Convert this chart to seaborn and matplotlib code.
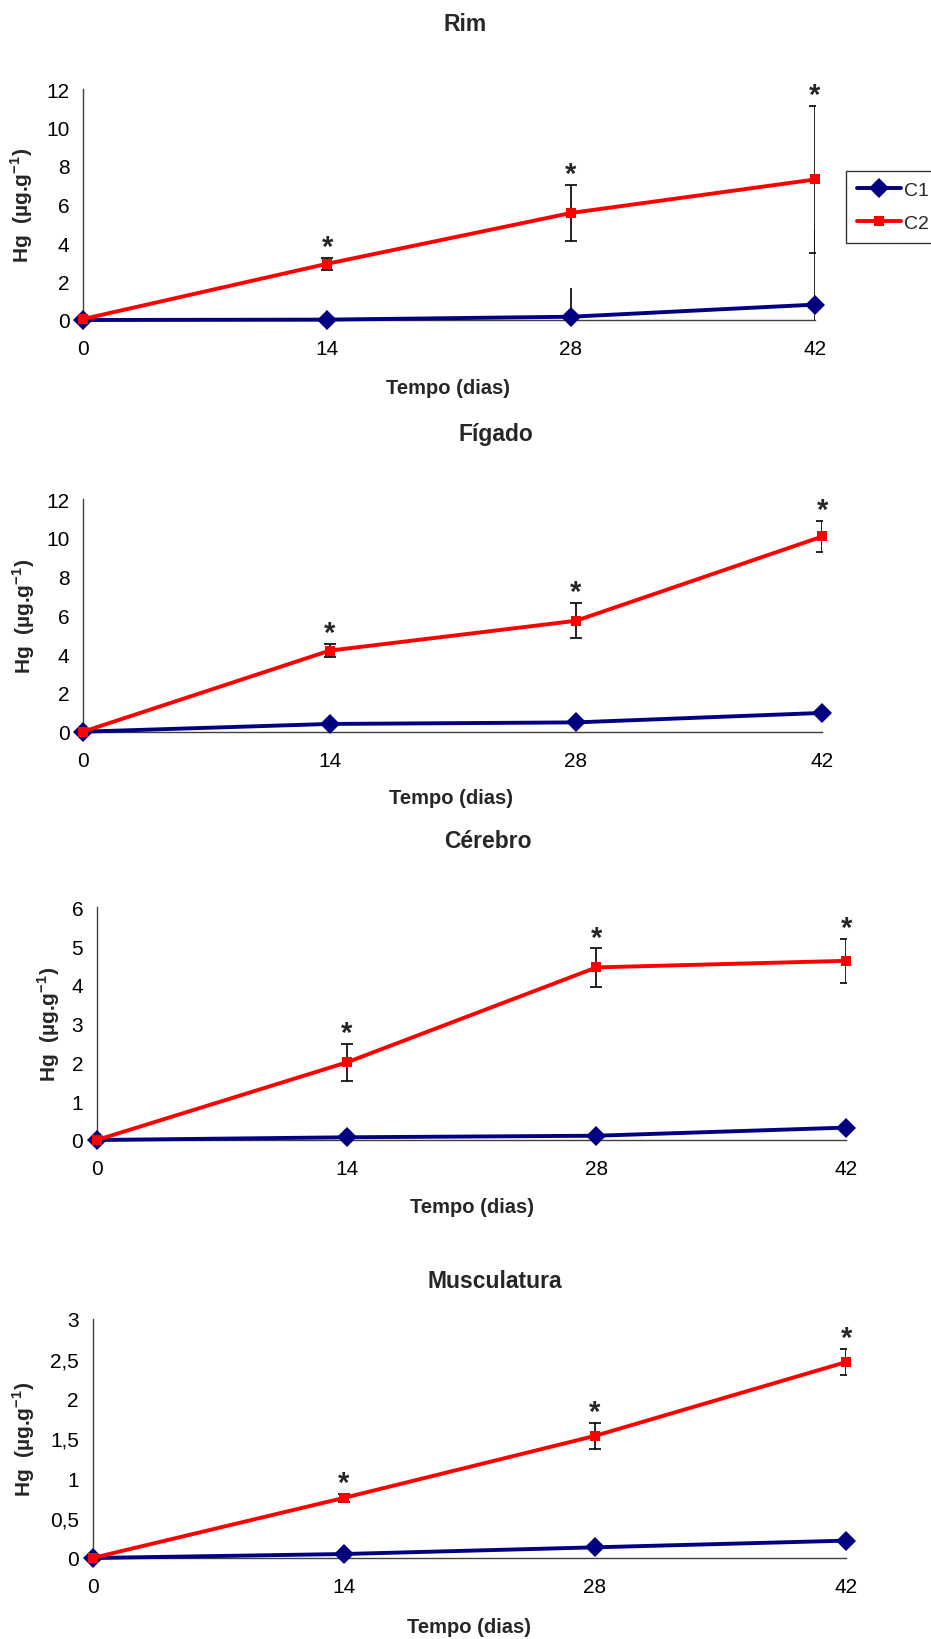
import numpy as np
import pandas as pd
import seaborn as sns
import matplotlib
matplotlib.use("Agg")
import matplotlib.pyplot as plt

# ---------------- data ----------------
days = [0, 14, 28, 42]
series_names = ["C1", "C2"]
panel_titles = ["Rim", "Fígado", "Cérebro", "Musculatura"]

rim_c1 = [0.0, 0.02, 0.17, 0.80]
rim_c1_err = [0.0, 0.0, 1.47, 3.86]
rim_c2 = [0.05, 2.92, 5.56, 7.30]
rim_c2_err = [0.0, 0.32, 1.47, 3.83]

figado_c1 = [0.0, 0.40, 0.48, 0.97]
figado_c1_err = [0.0, 0.0, 0.0, 0.0]
figado_c2 = [0.0, 4.18, 5.72, 10.07]
figado_c2_err = [0.0, 0.35, 0.91, 0.80]

cerebro_c1 = [0.0, 0.07, 0.11, 0.32]
cerebro_c1_err = [0.0, 0.0, 0.0, 0.05]
cerebro_c2 = [0.0, 2.00, 4.45, 4.62]
cerebro_c2_err = [0.0, 0.485, 0.495, 0.57]

musc_c1 = [0.0, 0.05, 0.134, 0.218]
musc_c1_err = [0.0, 0.0, 0.0, 0.0]
musc_c2 = [0.0, 0.754, 1.533, 2.46]
musc_c2_err = [0.0, 0.055, 0.163, 0.163]

significant = [False, True, True, True]

yticks_12 = [0, 2, 4, 6, 8, 10, 12]
yticklabels_12 = ["0", "2", "4", "6", "8", "10", "12"]
yticks_6 = [0, 1, 2, 3, 4, 5, 6]
yticklabels_6 = ["0", "1", "2", "3", "4", "5", "6"]
yticks_3 = [0, 0.5, 1, 1.5, 2, 2.5, 3]
yticklabels_3 = ["0", "0,5", "1", "1,5", "2", "2,5", "3"]
xticklabels = ["0", "14", "28", "42"]

# ---------------- style ----------------
sns.set_style("white")
plt.rcParams["font.family"] = ["Liberation Sans", "DejaVu Sans"]
plt.rcParams["mathtext.fontset"] = "custom"
plt.rcParams["mathtext.rm"] = "Liberation Sans"
plt.rcParams["mathtext.bf"] = "Liberation Sans:bold"

W, H = 931, 1640
fig = plt.figure(figsize=(W / 100, H / 100), dpi=100)
fig.patch.set_facecolor("white")

palette = {"C1": "#000080", "C2": "#FF0000"}
markers = {"C1": "D", "C2": "s"}
spine_col = "#404040"
LW = 2.8
MS_D = 10.5
MS_S = 7.3

panels = [
    dict(c1=rim_c1, c1e=rim_c1_err, c2=rim_c2, c2e=rim_c2_err,
         ymax=12, yt=yticks_12, ytl=yticklabels_12,
         box=(83.1, 90, 815.0, 321.0), title=(465, 24.5), xl=(448, 388), yl=(22, 205)),
    dict(c1=figado_c1, c1e=figado_c1_err, c2=figado_c2, c2e=figado_c2_err,
         ymax=12, yt=yticks_12, ytl=yticklabels_12,
         box=(83.1, 500, 822.4, 732.7), title=(496, 434), xl=(451, 799), yl=(24, 616)),
    dict(c1=cerebro_c1, c1e=cerebro_c1_err, c2=cerebro_c2, c2e=cerebro_c2_err,
         ymax=6, yt=yticks_6, ytl=yticklabels_6,
         box=(96.8, 908.3, 846.2, 1141.0), title=(488, 842), xl=(472, 1208), yl=(49, 1024)),
    dict(c1=musc_c1, c1e=musc_c1_err, c2=musc_c2, c2e=musc_c2_err,
         ymax=3, yt=yticks_3, ytl=yticklabels_3,
         box=(92.5, 1320, 846.2, 1559.0), title=(495, 1281), xl=(469, 1628), yl=(24, 1439)),
]

for i, p in enumerate(panels):
    x0, y0, x1, y1 = p["box"]
    ax = fig.add_axes([x0 / W, 1 - y1 / H, (x1 - x0) / W, (y1 - y0) / H])
    df = pd.DataFrame({
        "dia": days * 2,
        "Hg": list(p["c1"]) + list(p["c2"]),
        "serie": ["C1"] * len(days) + ["C2"] * len(days),
    })
    # error bars (behind lines)
    c1 = np.array(p["c1"]); c1e = np.array(p["c1e"])
    ax.errorbar(days, c1, yerr=[np.minimum(c1e, c1), c1e], fmt="none",
                ecolor="black", elinewidth=1.2, capsize=0 if i == 0 else 3.5,
                capthick=1.2, zorder=1.5)
    ax.errorbar(days, p["c2"], yerr=p["c2e"], fmt="none", ecolor="black",
                elinewidth=1.2, capsize=4.3, capthick=1.2, zorder=1.5)
    sns.lineplot(data=df, x="dia", y="Hg", hue="serie", style="serie",
                 palette=palette, markers=markers, dashes=False,
                 linewidth=LW, markersize=MS_D, markeredgewidth=0,
                 errorbar=None, legend=(i == 0), ax=ax, clip_on=False, zorder=3)
    for ln in ax.lines:
        if ln.get_marker() == "s":
            ln.set_markersize(MS_S)
    # asterisks
    for d, v, e, s in zip(days, p["c2"], p["c2e"], significant):
        if s:
            ax.annotate("*", xy=(d, v + e), xytext=(0, 2), textcoords="offset points",
                        ha="center", va="baseline", fontsize=21, fontweight="bold",
                        annotation_clip=False)
    ax.set_xlim(0, 42)
    ax.set_ylim(0, p["ymax"])
    ax.set_xticks(days)
    ax.set_xticklabels(xticklabels)
    ax.set_yticks(p["yt"])
    ax.set_yticklabels(p["ytl"])
    ax.set_xlabel("")
    ax.set_ylabel("")
    for side in ["top", "right"]:
        ax.spines[side].set_visible(False)
    for side in ["left", "bottom"]:
        ax.spines[side].set_color(spine_col)
        ax.spines[side].set_linewidth(1.0)
    ax.tick_params(axis="both", direction="out", length=3.8, width=1.0,
                   color=spine_col, labelsize=15, labelcolor="black")
    ax.tick_params(axis="y", pad=6)
    ax.tick_params(axis="x", pad=10)
    ax.set_facecolor("white")

    if i == 0:
        handles, labels = ax.get_legend_handles_labels()
        leg = ax.get_legend()
        if leg is not None:
            leg.remove()
        for h in handles:
            h.set_linewidth(LW)
            h.set_markersize(MS_S if h.get_marker() == "s" else MS_D)
            h.set_markeredgewidth(0)
        leg = fig.legend(handles, labels, loc="upper left",
                         bbox_to_anchor=(846 / W, 1 - 171.7 / H),
                         bbox_transform=fig.transFigure, fontsize=14,
                         frameon=True, fancybox=False, shadow=False,
                         borderaxespad=0, borderpad=0.55, labelspacing=0.8,
                         handlelength=2.3, handletextpad=0.12)
        leg.get_frame().set_edgecolor("black")
        leg.get_frame().set_linewidth(1.0)

    fig.text(p["title"][0] / W, 1 - p["title"][1] / H, panel_titles[i],
             ha="center", va="center", fontsize=16.5, fontweight="bold")
    fig.text(p["xl"][0] / W, 1 - p["xl"][1] / H, "Tempo (dias)",
             ha="center", va="center", fontsize=14.5, fontweight="bold")
    fig.text(p["yl"][0] / W, 1 - p["yl"][1] / H, r"Hg  (µg.g$^{\mathbf{-1}}$)",
             ha="center", va="center", rotation=90, fontsize=15, fontweight="bold")

fig.savefig("out.png", dpi=100, facecolor="white")
